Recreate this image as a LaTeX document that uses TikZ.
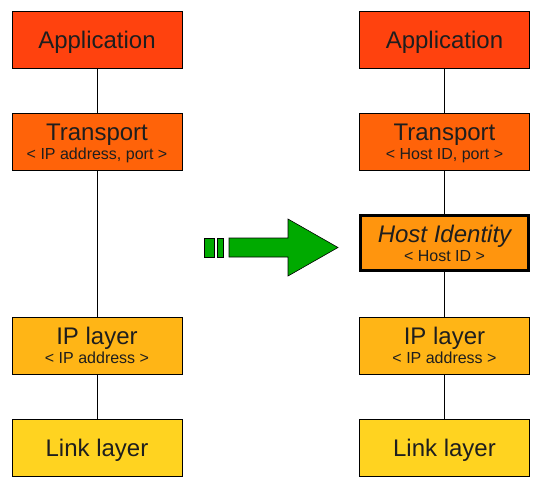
\documentclass[tikz,border=0pt]{standalone}
\usepackage{fontspec}
\setmainfont{Liberation Sans}
\definecolor{appcol}{HTML}{FF420E}
\definecolor{trancol}{HTML}{FF6309}
\definecolor{hostcol}{HTML}{FF950E}
\definecolor{ipcol}{HTML}{FFB516}
\definecolor{linkcol}{HTML}{FFD320}
\definecolor{arrgreen}{HTML}{00AA00}
\definecolor{txtgray}{HTML}{1E1E1E}
\usetikzlibrary{positioning}
\tikzset{
	layer/.style={rectangle, draw=black, line width=1pt, minimum width=170pt, minimum height=57pt, inner sep=0pt, text depth=0pt, align=center, text=txtgray, font=\fontsize{24}{19}\selectfont},
	hostlayer/.style={layer, line width=3pt, minimum width=168pt, minimum height=55pt, fill=hostcol},
	link/.style={draw=black, line width=1pt},
}
\newcommand{\subtxt}[1]{\\{\fontsize{16}{19}\selectfont #1}}

\begin{document}
\begin{tikzpicture}[x=1pt, y=-1pt, node distance=44pt]
		\useasboundingbox (0,0) rectangle (543,490);
		% left stack
		\node[layer, fill=appcol] (lapp) at (97,39.5) {Application};
		\node[layer, fill=trancol, below=of lapp] (ltran) {Transport\subtxt{< IP address, port >}};
		\node[layer, fill=ipcol, below=146pt of ltran] (lip) {IP layer\subtxt{< IP address >}};
		\node[layer, fill=linkcol, below=of lip] (llink) {Link layer};
		% right stack
		\node[layer, fill=appcol] (rapp) at (444.5,39.5) {Application};
		\node[layer, fill=trancol, below=of rapp] (rtran) {Transport\subtxt{< Host ID, port >}};
		\node[hostlayer, below=43.5pt of rtran] (rhost) {\itshape Host Identity\subtxt{\upshape < Host ID >}};
		\node[layer, fill=ipcol, below=44.5pt of rhost] (rip) {IP layer\subtxt{< IP address >}};
		\node[layer, fill=linkcol, below=of rip] (rlink) {Link layer};
		\draw[link] (lapp) -- (ltran) (ltran) -- (lip) (lip) -- (llink);
		\draw[link] (rapp) -- (rtran) (rtran) -- (rhost) (rhost) -- (rip) (rip) -- (rlink);
		% green arrow
		\filldraw[fill=arrgreen, draw=black, line width=0.6pt] (204,238) rectangle (214,257) (217,238) rectangle (223,257);
		\filldraw[fill=arrgreen, draw=black, line width=0.6pt] (229,238) -- (288,238) -- (288,219) -- (338,247.5) -- (288,276) -- (288,257) -- (229,257) -- cycle;
	\end{tikzpicture}
\end{document}
